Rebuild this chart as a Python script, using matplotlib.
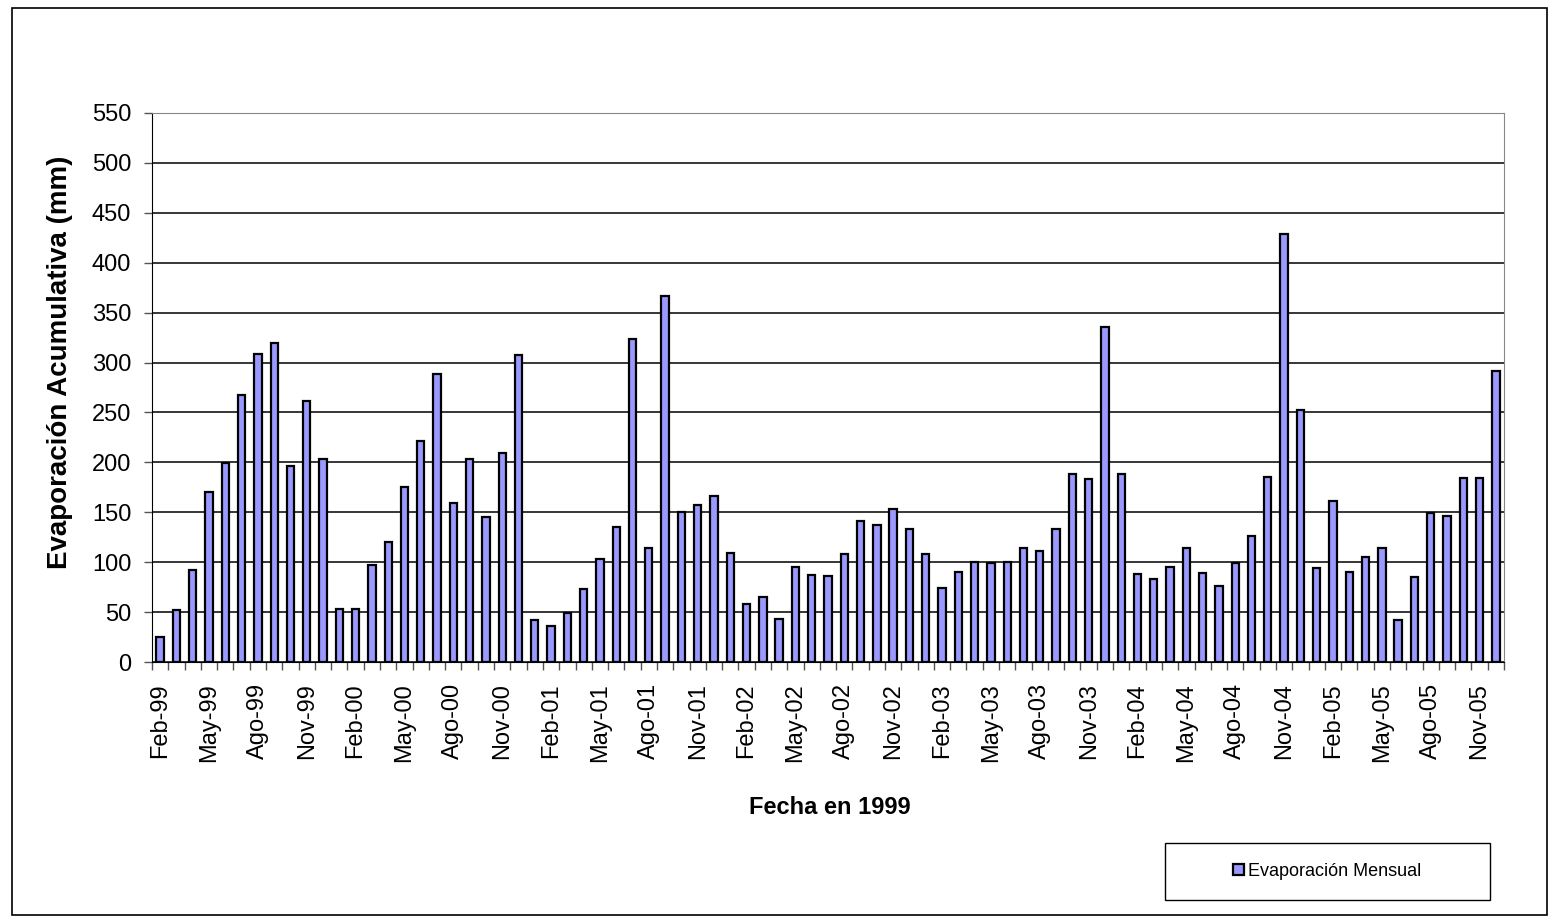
import numpy as np
import matplotlib
matplotlib.use('Agg')
import matplotlib.pyplot as plt
from matplotlib.patches import Rectangle

plt.rcParams['font.family'] = ['Liberation Sans', 'DejaVu Sans']

# monthly evaporation, Feb-99 .. Dec-05
evap = [25, 52, 92, 170, 199, 268, 309, 320, 196, 262, 203,
        53, 53, 97, 120, 175, 221, 289, 159, 203, 145, 209, 308,
        42, 36, 49, 73, 103, 135, 324, 114, 367, 150, 157, 166,
        109, 58, 65, 43, 95, 87, 86, 108, 141, 137, 153, 133,
        108, 74, 90, 100, 99, 100, 114, 111, 133, 188, 183, 336,
        188, 88, 83, 95, 114, 89, 76, 99, 126, 185, 429, 252,
        94, 161, 90, 105, 114, 42, 85, 149, 146, 184, 184, 292]
meses = ['Ene', 'Feb', 'Mar', 'Abr', 'May', 'Jun', 'Jul', 'Ago', 'Sep', 'Oct', 'Nov', 'Dic']

labels = []
m, y = 1, 99
for _ in evap:
    labels.append('%s-%02d' % (meses[m], y % 100))
    m += 1
    if m == 12:
        m = 0
        y += 1

fig = plt.figure(figsize=(15.51, 9.17), dpi=100)
ax = fig.add_axes([0.098, 0.278, 0.8717, 0.5988])

x = np.arange(len(evap))
ax.bar(x, evap, width=0.45, color='#9999FF', edgecolor='black', linewidth=1.6,
       label='Evaporación Mensual', zorder=3)

ax.set_xlim(-0.5, len(evap) - 0.5)
ax.set_ylim(0, 550)
ax.set_yticks(np.arange(0, 551, 50))
ax.yaxis.grid(True, color='black', linewidth=1.1, zorder=0)
ax.tick_params(axis='y', labelsize=17, length=6, width=1, color='#555555', pad=9)

show = [i for i, l in enumerate(labels) if l[:3] in ('Feb', 'May', 'Ago', 'Nov')]
ax.set_xticks(show)
ax.set_xticklabels([labels[i] for i in show], rotation=90, fontsize=17)
ax.tick_params(axis='x', length=0, pad=15)
ax.set_xticks(np.arange(-0.5, len(evap), 1), minor=True)
ax.tick_params(axis='x', which='minor', length=6, width=1, color='#555555')

for s in ['top', 'right']:
    ax.spines[s].set_color('#888888')
ax.spines['left'].set_color('black')
ax.spines['bottom'].set_color('black')

fig.text(60 / 1551, 1 - 362 / 917, 'Evaporación Acumulativa (mm)', fontsize=20,
         fontweight='bold', rotation=90, ha='center', va='center')
fig.text(830 / 1551, 1 - 808 / 917, 'Fecha en 1999', fontsize=17, fontweight='bold',
         ha='center', va='center')

# legend box
fig.patches.append(Rectangle((1165 / 1551, 1 - 900 / 917), 325 / 1551, 57 / 917,
                             transform=fig.transFigure, fill=False,
                             edgecolor='black', linewidth=1))
fig.legend(loc='center', bbox_to_anchor=(1327 / 1551, 1 - 871.5 / 917), fontsize=13,
           frameon=False, handlelength=0.6, handleheight=0.6, handletextpad=0.2,
           borderaxespad=0)

fig.patches.append(Rectangle((0.0077, 0.002), 0.99, 0.989, transform=fig.transFigure,
                             fill=False, edgecolor='black', linewidth=1.2))

fig.savefig('out.png', dpi=100)
